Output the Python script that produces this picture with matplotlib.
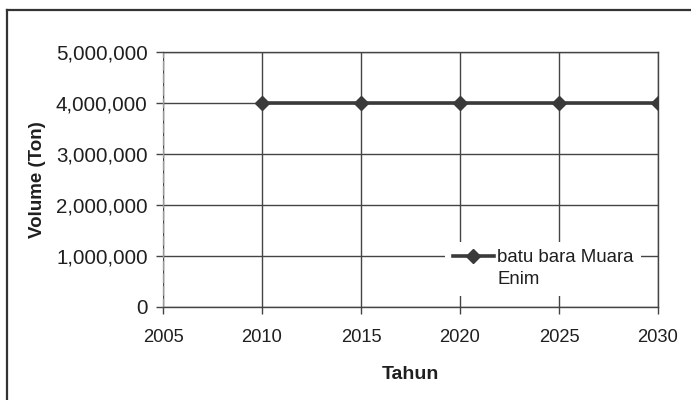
import matplotlib
matplotlib.use("Agg")
import matplotlib.pyplot as plt
from matplotlib.ticker import FuncFormatter
from matplotlib.lines import Line2D

plt.rcParams['font.family'] = ['Liberation Sans', 'DejaVu Sans']

# Data
years = [2010, 2015, 2020, 2025, 2030]
volume = [4000000, 4000000, 4000000, 4000000, 4000000]
series_label = "batu bara Muara\nEnim"
x_ticks = [2005, 2010, 2015, 2020, 2025, 2030]
y_ticks = [0, 1000000, 2000000, 3000000, 4000000, 5000000]

ink = "#3a3a3a"
text_ink = "#1f1f1f"

fig = plt.figure(figsize=(6.91, 4.0), dpi=100)
ax = fig.add_axes([163 / 691, 93 / 400, 495 / 691, 255 / 400])

line, = ax.plot(years, volume, color=ink, lw=2.6, marker="D", ms=7,
                markerfacecolor=ink, markeredgecolor=ink,
                label=series_label, zorder=3)

ax.set_xlim(2005, 2030)
ax.set_ylim(0, 5000000)
ax.set_xticks(x_ticks)
ax.set_yticks(y_ticks)
ax.yaxis.set_major_formatter(FuncFormatter(lambda v, p: f"{int(v):,}"))

ax.grid(True, color="#444444", lw=1.0)
ax.set_axisbelow(True)
for side in ("top", "right", "bottom", "left"):
    ax.spines[side].set_color("#444444")
    ax.spines[side].set_linewidth(1.0)
ax.spines["left"].set_color("#9a9a9a")
ax.spines["left"].set_linestyle((0, (6, 3)))

ax.tick_params(axis="y", labelsize=14.8, colors="#444444", labelcolor=text_ink,
               length=5, width=1.0, pad=6)
ax.tick_params(axis="x", labelsize=13.2, colors="#444444", labelcolor=text_ink,
               length=5, width=1.0, pad=11)

ax.set_xlabel("Tahun", fontsize=14, fontweight="bold", color=text_ink, labelpad=14)
ax.set_ylabel("Volume (Ton)", fontsize=13.5, fontweight="bold", color=text_ink)
ax.yaxis.set_label_coords(-(163 - 46) / 495, (307 - 180) / 255)

# Legend: the wrapped series name, with the key beside its first line
label_lines = series_label.split("\n")
blank = Line2D([], [], color="none", marker=None)
leg = ax.legend([line, blank], label_lines, loc="center",
                bbox_to_anchor=(0.768, 0.15), frameon=True,
                fontsize=13.4, handlelength=2.2, handletextpad=0.2,
                borderpad=0.4, labelspacing=0.25, labelcolor=text_ink)
leg.get_frame().set_facecolor("white")
leg.get_frame().set_edgecolor("none")
leg.get_frame().set_alpha(1.0)

# Outer border of the chart area
fig.add_artist(Line2D([7 / 691, 1.0], [1 - 10 / 400, 1 - 10 / 400],
                      transform=fig.transFigure, color="#333333", lw=1.6))
fig.add_artist(Line2D([7 / 691, 7 / 691], [0.0, 1 - 10 / 400],
                      transform=fig.transFigure, color="#333333", lw=1.6))

fig.savefig("out.png", dpi=100)
